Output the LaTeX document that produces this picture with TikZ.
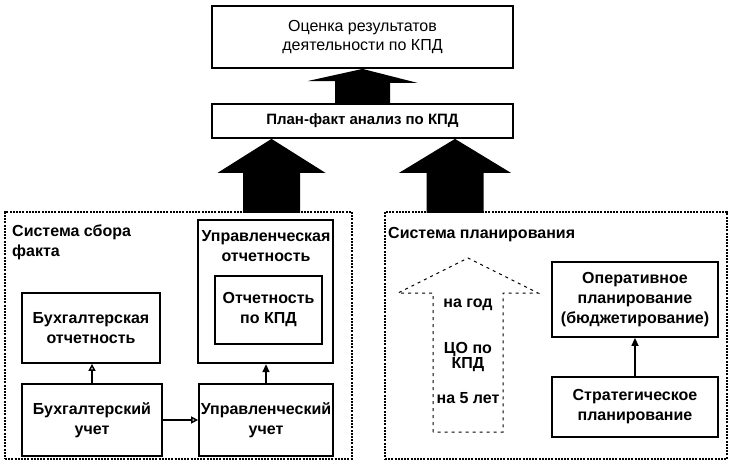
\documentclass[tikz,border=0pt]{standalone}
\usepackage{fontspec}
\setmainfont{Liberation Sans}
\usetikzlibrary{arrows.meta,calc}
\begin{document}
\begin{tikzpicture}[x=1pt,y=-1pt,
  bfont/.style={font=\bfseries\fontsize{16}{20}\selectfont},
  box/.style={draw,line width=1.8pt,align=center,inner sep=0pt,bfont},
  panel/.style={draw,line width=1.3pt,dash pattern=on 2pt off 1.2pt,inner sep=0pt},
  lbl/.style={align=left,inner sep=0pt,bfont},
  clbl/.style={align=center,inner sep=0pt,bfont},
  conn/.style={line width=1.5pt},
  openarr/.style={conn,-{Triangle[open,length=7pt,width=7pt]}},
  fillarr/.style={conn,-{Triangle[length=8pt,width=7pt]}},
  bigarrow/.style={fill=black},
  dasharrow/.style={draw,line width=1pt,dash pattern=on 3pt off 4pt}
]
\useasboundingbox (0,0) rectangle (731,465);

% top boxes
\node[box,minimum width=301pt,minimum height=62pt,font=\fontsize{16}{19}\selectfont] (ocenka) at (362.5,37)
  {Оценка результатов\\деятельности по КПД};
\node[box,minimum width=301pt,minimum height=34pt,font=\bfseries\fontsize{15}{18}\selectfont] (plan) at (362.5,121)
  {План-факт анализ по КПД};

% panels
\node[panel,minimum width=347pt,minimum height=247pt] (fact) at (178.5,335.5) {};
\node[panel,minimum width=342pt,minimum height=247pt] (plansys) at (556,335.5) {};
\node[lbl,anchor=north west] (factlbl) at (12,225) {Система сбора\\факта};
\node[lbl,anchor=north west] (planlbl) at (388,227) {Система планирования};

% left panel boxes
\node[box,line width=2.4pt,minimum width=135pt,minimum height=143pt] (uprotch) at (265.5,291.5) {};
\node[clbl,anchor=north] (uprotchlbl) at (266,230) {Управленческая\\отчетность};
\node[box,minimum width=107pt,minimum height=68pt] (kpd) at (268.5,310) {Отчетность\\по КПД};
\node[box,minimum width=138pt,minimum height=70pt] (buhotch) at (91,328) {Бухгалтерская\\отчетность};
\node[box,minimum width=140pt,minimum height=72pt] (buhuchet) at (92,420) {Бухгалтерский\\учет};
\node[box,minimum width=134pt,minimum height=72pt] (upruchet) at (266,420) {Управленческий\\учет};

\draw[openarr] (buhuchet.north) -- (buhuchet.north |- buhotch.south);
\draw[openarr] (buhuchet.east) -- (upruchet.west);
\draw[fillarr] (upruchet.north) -- (upruchet.north |- uprotch.south);

% right panel boxes
\node[box,minimum width=166pt,minimum height=75pt] (oper) at (635,299.5)
  {Оперативное\\планирование\\(бюджетирование)};
\node[box,minimum width=166pt,minimum height=60pt] (strat) at (635,407)
  {Стратегическое\\планирование};
\draw[fillarr] (strat.north) -- (oper.south);

% dashed horizon arrow
\coordinate (dtip) at (468,258);
\path[dasharrow] (433,432) -- (433,293) -- (398,293) -- (dtip) -- (538,293) -- (503,293) -- (503,432) -- cycle;
\node[clbl] (year) at (468,305) {на год};
\node[clbl,font=\bfseries\fontsize{16}{15}\selectfont] (co) at (468,357) {ЦО по\\КПД};
\node[clbl] (five) at (468,398) {на 5 лет};

% big arrows
\path[bigarrow] (ocenka.south) -- ++(55,14) -- ++(-27.5,0) |- (plan.north) -- ++(-27.5,0) |- ++(-27.5,-22) -- cycle;
\path[bigarrow] (plan.south -| 271.5,0) -- ++(54,34) -- ++(-25.5,0) -- ++(0,40) -- ++(-57,0) -- ++(0,-40) -- ++(-25.5,0) -- cycle;
\path[bigarrow] (plan.south -| 455,0) -- ++(56,34) -- ++(-27.5,0) -- ++(0,40) -- ++(-57,0) -- ++(0,-40) -- ++(-27.5,0) -- cycle;
\end{tikzpicture}
\end{document}
